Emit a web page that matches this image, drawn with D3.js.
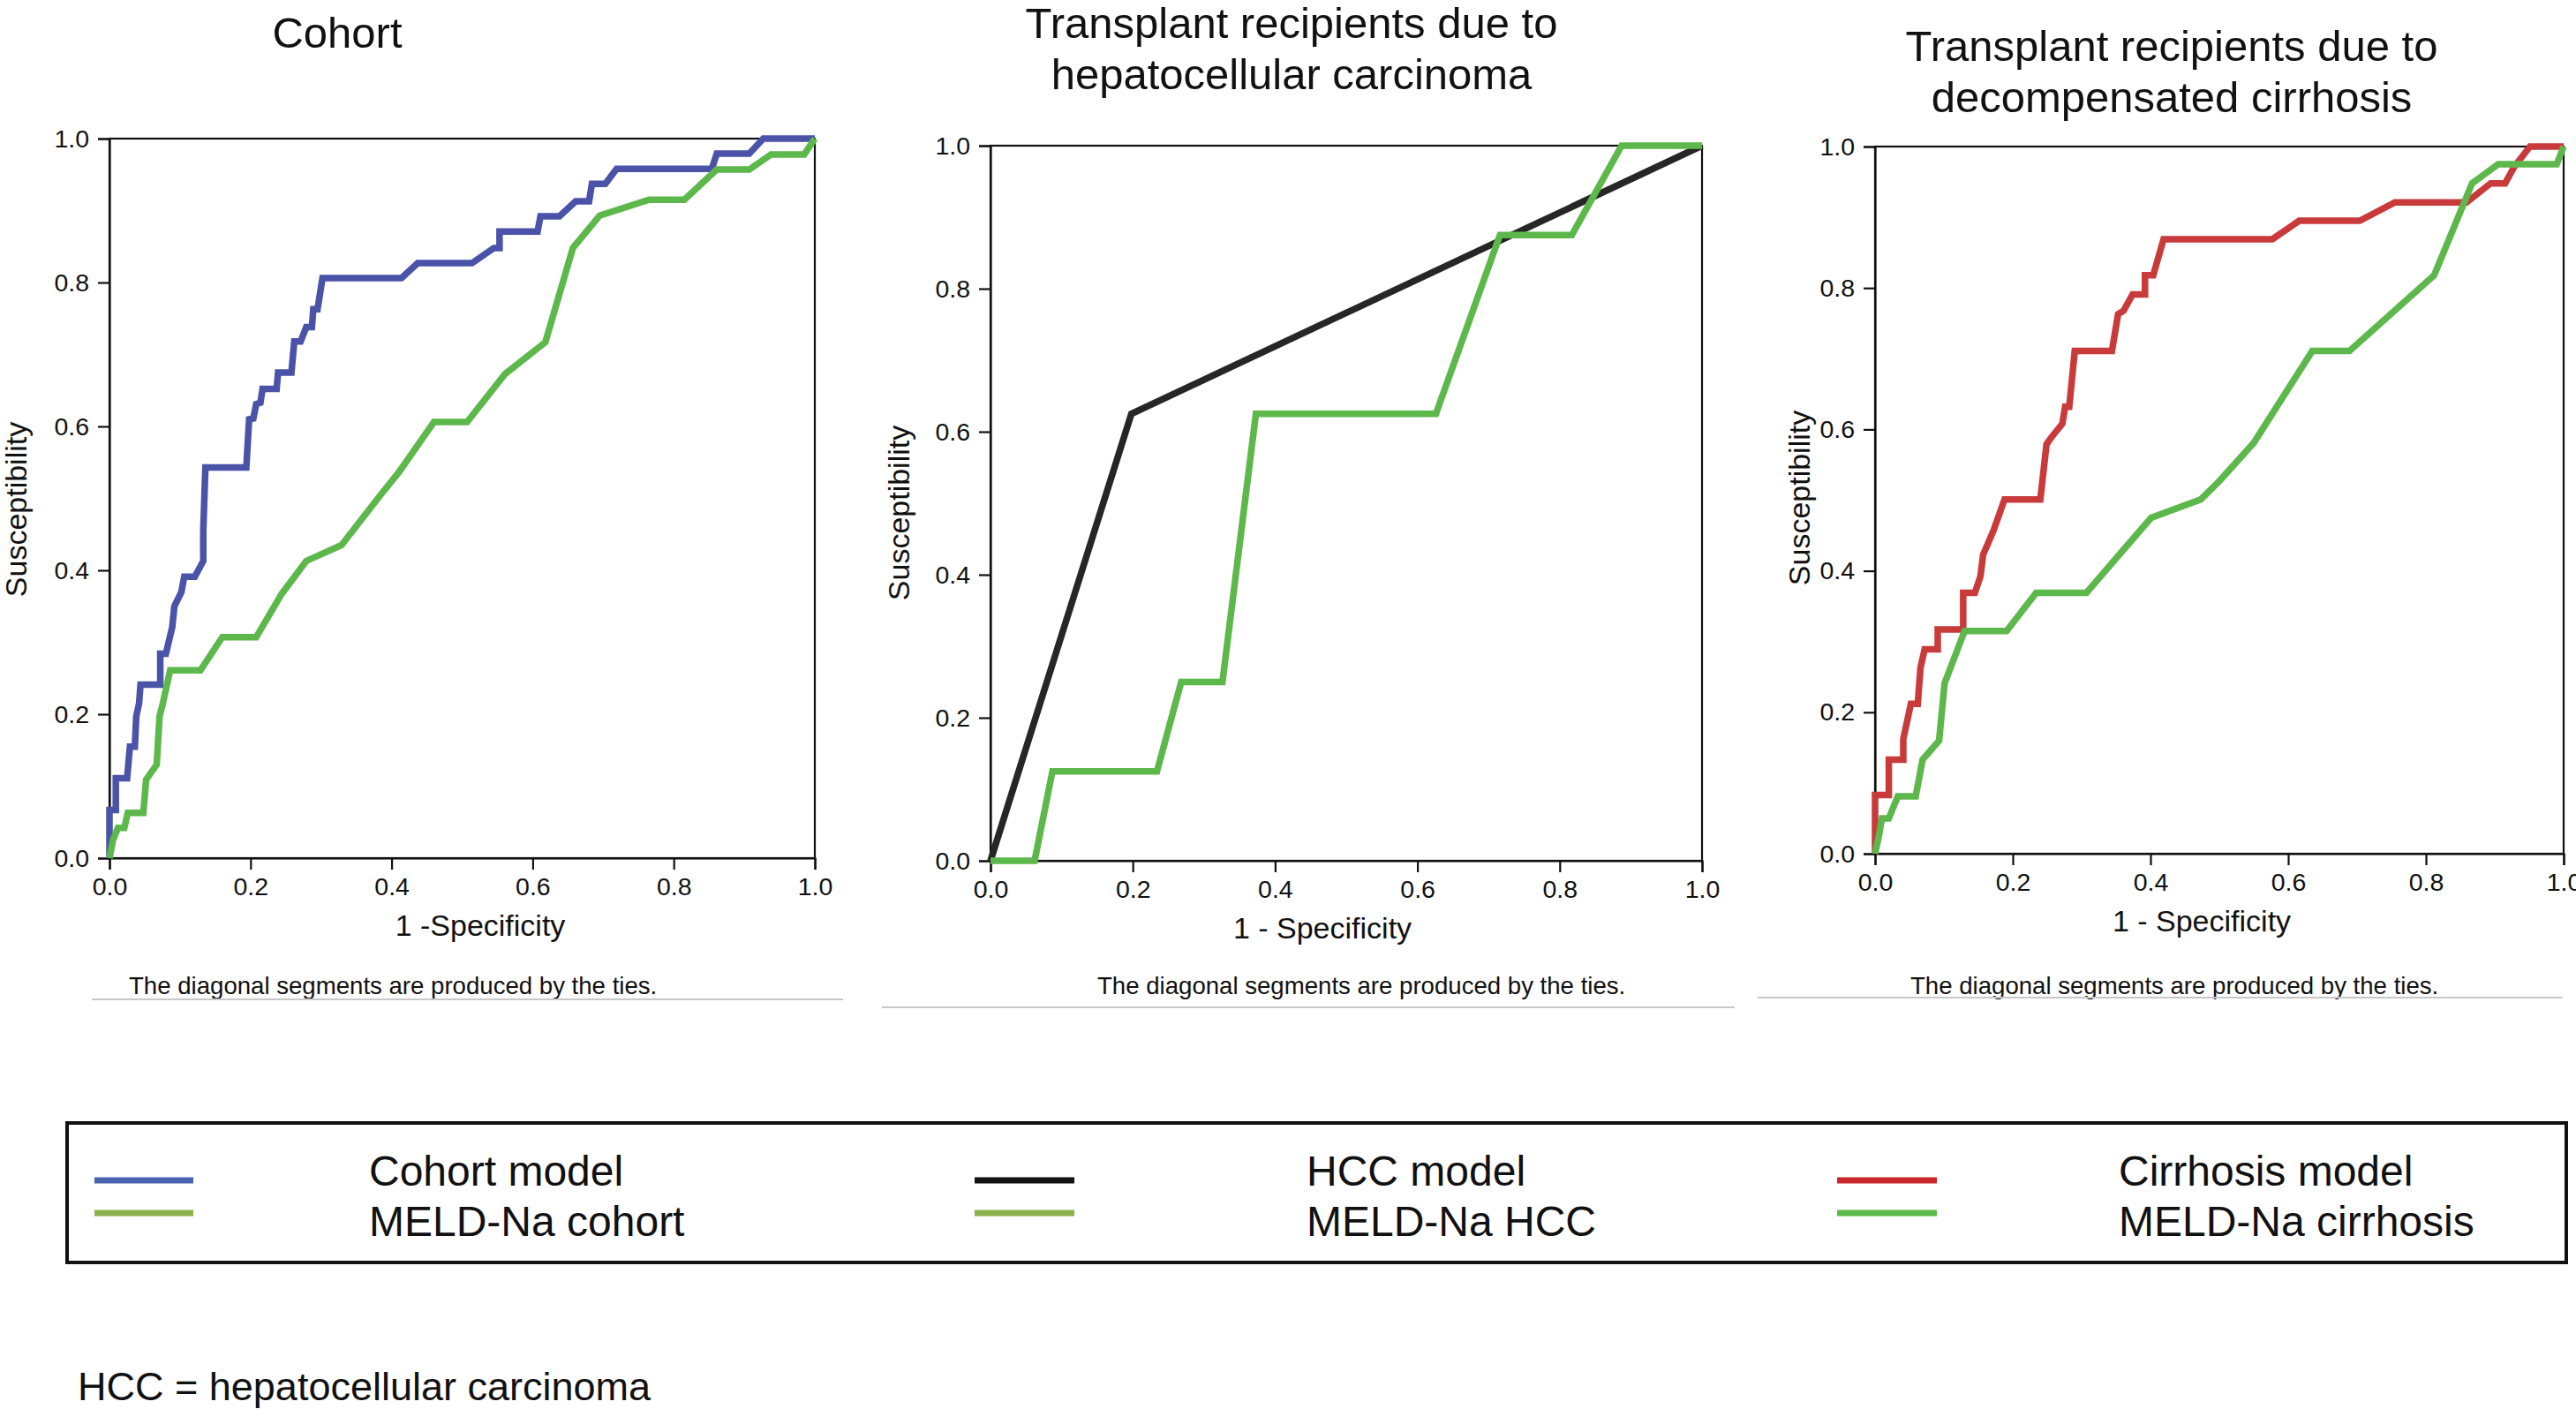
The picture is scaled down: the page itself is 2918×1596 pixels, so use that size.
<!DOCTYPE html>
<html>
<head>
<meta charset="utf-8">
<script src="https://cdn.jsdelivr.net/npm/d3@7"></script>
<style>
  html, body { margin: 0; padding: 0; background: #ffffff; }
  svg { display: block; }
  text { font-family: "Liberation Sans", Arial, Helvetica, sans-serif; fill: #111; }
</style>
</head>
<body>
<svg id="chart" width="2918" height="1596"></svg>
<script>
// ---------------- DATA ----------------
const axisTicks = [0, 0.2, 0.4, 0.6, 0.8, 1.0];

const panelTitles = [
  ["Cohort"],
  ["Transplant recipients due to", "hepatocellular carcinoma"],
  ["Transplant recipients due to", "decompensated cirrhosis"]
];
const xAxisLabels = ["1 -Specificity", "1 - Specificity", "1 - Specificity"];
const yAxisLabel = "Susceptibility";
const footnote = "The diagonal segments are produced by the ties.";

// ROC curve points [1 - specificity, sensitivity]
const cohortModel = [
  [0,0],[0,0.067],[0.009,0.067],[0.009,0.111],[0.025,0.111],[0.029,0.155],[0.036,0.155],
  [0.038,0.197],[0.042,0.215],[0.044,0.241],[0.072,0.241],[0.072,0.284],[0.080,0.284],
  [0.089,0.321],[0.092,0.350],[0.102,0.370],[0.106,0.391],[0.121,0.391],[0.133,0.413],
  [0.133,0.455],[0.136,0.543],[0.194,0.543],[0.198,0.610],[0.204,0.611],[0.208,0.631],
  [0.214,0.633],[0.217,0.652],[0.237,0.652],[0.239,0.675],[0.258,0.675],[0.262,0.718],
  [0.271,0.718],[0.279,0.738],[0.287,0.738],[0.289,0.763],[0.295,0.763],[0.302,0.806],
  [0.414,0.806],[0.437,0.827],[0.514,0.827],[0.545,0.848],[0.553,0.848],[0.553,0.871],
  [0.607,0.871],[0.611,0.892],[0.638,0.892],[0.661,0.913],[0.680,0.913],[0.684,0.937],
  [0.703,0.937],[0.719,0.958],[0.854,0.958],[0.861,0.979],[0.907,0.979],[0.927,1.0],[1,1]
];
const meldCohort = [
  [0,0],[0.005,0.025],[0.012,0.042],[0.021,0.042],[0.026,0.063],[0.048,0.063],[0.052,0.109],
  [0.067,0.130],[0.071,0.197],[0.075,0.212],[0.086,0.261],[0.129,0.261],[0.160,0.307],
  [0.208,0.307],[0.244,0.367],[0.279,0.413],[0.329,0.435],[0.383,0.503],[0.410,0.536],
  [0.460,0.606],[0.507,0.606],[0.561,0.673],[0.618,0.717],[0.657,0.848],[0.695,0.893],
  [0.765,0.915],[0.815,0.915],[0.861,0.957],[0.907,0.957],[0.938,0.978],[0.985,0.978],[1,1]
];
const hccModel = [[0,0],[0.198,0.625],[1,1]];
const meldHcc = [
  [0,0],[0.062,0],[0.087,0.125],[0.234,0.125],[0.268,0.25],[0.326,0.25],[0.373,0.625],
  [0.626,0.625],[0.716,0.875],[0.817,0.875],[0.887,1.0],[1,1]
];
const cirrhosisModel = [
  [0,0],[0,0.083],[0.020,0.083],[0.020,0.133],[0.041,0.133],[0.041,0.162],[0.052,0.212],
  [0.062,0.212],[0.066,0.263],[0.072,0.289],[0.091,0.289],[0.091,0.317],[0.128,0.317],
  [0.128,0.369],[0.145,0.369],[0.153,0.392],[0.157,0.423],[0.172,0.457],[0.188,0.501],
  [0.240,0.501],[0.249,0.579],[0.257,0.590],[0.272,0.608],[0.276,0.632],[0.282,0.632],
  [0.290,0.711],[0.344,0.711],[0.353,0.763],[0.361,0.768],[0.374,0.791],[0.392,0.791],
  [0.392,0.818],[0.404,0.818],[0.419,0.869],[0.577,0.869],[0.616,0.895],[0.704,0.895],
  [0.755,0.921],[0.859,0.921],[0.894,0.948],[0.915,0.948],[0.928,0.971],[0.951,1.0],[1,1]
];
const meldCirrhosis = [
  [0,0],[0.005,0.022],[0.010,0.050],[0.020,0.050],[0.033,0.081],[0.059,0.081],[0.069,0.133],
  [0.093,0.160],[0.101,0.241],[0.130,0.315],[0.191,0.315],[0.234,0.369],[0.307,0.369],
  [0.353,0.421],[0.401,0.475],[0.473,0.501],[0.500,0.527],[0.550,0.581],[0.635,0.711],
  [0.689,0.711],[0.812,0.818],[0.867,0.948],[0.905,0.975],[0.990,0.975],[1,1]
];

const legendNames = [
  ["Cohort model", "MELD-Na cohort"],
  ["HCC model", "MELD-Na HCC"],
  ["Cirrhosis model", "MELD-Na cirrhosis"]
];
const bottomNote = "HCC = hepatocellular carcinoma";

// ---------------- STYLE / LAYOUT ----------------
const colors = {
  blue: "#4a53a8", green: "#5db84b", black: "#262626", red: "#c93b3b",
  legendBlue: "#4a62b0", legendOlive: "#8cb04c", legendGreen: "#5cb848",
  legendBlack: "#111111", legendRed: "#c9262c"
};

const panels = [
  { x0: 124, x1: 923, y0: 157, y1: 972, series: [[cohortModel, colors.blue], [meldCohort, colors.green]],
    titleX: 382, titleY: [54], xLabX: 544, yLabX: 30, yLabY: 577,
    noteX: 146, noteY: 1126, ruleX0: 104, ruleX1: 955, ruleY: 1132 },
  { x0: 1122, x1: 1928, y0: 165, y1: 975, series: [[hccModel, colors.black], [meldHcc, colors.green]],
    titleX: 1463, titleY: [43, 101], xLabX: 1498, yLabX: 1030, yLabY: 581,
    noteX: 1243, noteY: 1126, ruleX0: 999, ruleX1: 1965, ruleY: 1141 },
  { x0: 2124, x1: 2904, y0: 166, y1: 967, series: [[cirrhosisModel, colors.red], [meldCirrhosis, colors.green]],
    titleX: 2460, titleY: [69, 127], xLabX: 2494, yLabX: 2050, yLabY: 564,
    noteX: 2164, noteY: 1126, ruleX0: 1991, ruleX1: 2903, ruleY: 1130 }
];

const svg = d3.select("#chart");
const fmt = d3.format(".1f");

panels.forEach((p, i) => {
  const x = d3.scaleLinear().domain([0, 1]).range([p.x0, p.x1]);
  const y = d3.scaleLinear().domain([0, 1]).range([p.y1, p.y0]);
  const g = svg.append("g");

  // title
  panelTitles[i].forEach((t, k) => {
    g.append("text").attr("x", p.titleX).attr("y", p.titleY[k])
      .attr("text-anchor", "middle").style("font-size", "49px").text(t);
  });

  // frame (top & right)
  g.append("rect").attr("x", p.x0).attr("y", p.y0)
    .attr("width", p.x1 - p.x0).attr("height", p.y1 - p.y0)
    .attr("fill", "none").attr("stroke", "#111").attr("stroke-width", 2.2);

  // axes
  const xAxis = d3.axisBottom(x).tickValues(axisTicks).tickFormat(fmt).tickSize(13).tickPadding(9);
  const yAxis = d3.axisLeft(y).tickValues(axisTicks).tickFormat(fmt).tickSize(13).tickPadding(10);
  const gx = g.append("g").attr("transform", `translate(0,${p.y1})`).call(xAxis);
  const gy = g.append("g").attr("transform", `translate(${p.x0},0)`).call(yAxis);
  [gx, gy].forEach(a => {
    a.select(".domain").attr("stroke", "#111").attr("stroke-width", 2.2);
    a.selectAll(".tick line").attr("stroke", "#111").attr("stroke-width", 2.2);
    a.selectAll(".tick text").style("font-size", "28.5px")
      .style("font-family", "'Liberation Sans', Arial, sans-serif").attr("fill", "#111");
  });

  // lines
  const line = d3.line().x(d => x(d[0])).y(d => y(d[1]));
  p.series.forEach(([data, col]) => {
    g.append("path").datum(data).attr("d", line)
      .attr("fill", "none").attr("stroke", col).attr("stroke-width", 7.5)
      .attr("stroke-linejoin", "miter");
  });

  // axis labels
  g.append("text").attr("x", p.xLabX).attr("y", p.y1 + 88)
    .attr("text-anchor", "middle").style("font-size", "34px").text(xAxisLabels[i]);
  g.append("text").attr("transform", `translate(${p.yLabX},${p.yLabY}) rotate(-90)`)
    .attr("text-anchor", "middle").style("font-size", "34px").text(yAxisLabel);

  // footnote and rule
  g.append("text").attr("x", p.noteX).attr("y", p.noteY)
    .style("font-size", "27.6px").text(footnote);
  g.append("line").attr("x1", p.ruleX0).attr("x2", p.ruleX1)
    .attr("y1", p.ruleY).attr("y2", p.ruleY)
    .attr("stroke", "#c8c8c8").attr("stroke-width", 2);
});

// ---------------- LEGEND ----------------
svg.append("rect").attr("x", 76).attr("y", 1272).attr("width", 2831).attr("height", 158)
  .attr("fill", "none").attr("stroke", "#111").attr("stroke-width", 4);

const legendCols = [
  { lx0: 107, lx1: 219, tx: 418, cols: [colors.legendBlue, colors.legendOlive] },
  { lx0: 1104, lx1: 1217, tx: 1480, cols: [colors.legendBlack, colors.legendOlive] },
  { lx0: 2081, lx1: 2194, tx: 2400, cols: [colors.legendRed, colors.legendGreen] }
];
const legendLineY = [1337, 1374];
const legendTextY = [1343, 1400];
legendCols.forEach((c, i) => {
  [0, 1].forEach(k => {
    svg.append("line").attr("x1", c.lx0).attr("x2", c.lx1)
      .attr("y1", legendLineY[k]).attr("y2", legendLineY[k])
      .attr("stroke", c.cols[k]).attr("stroke-width", 7);
    svg.append("text").attr("x", c.tx).attr("y", legendTextY[k])
      .style("font-size", "48px").text(legendNames[i][k]);
  });
});

svg.append("text").attr("x", 88).attr("y", 1586).style("font-size", "45px").text(bottomNote);
</script>
</body>
</html>
